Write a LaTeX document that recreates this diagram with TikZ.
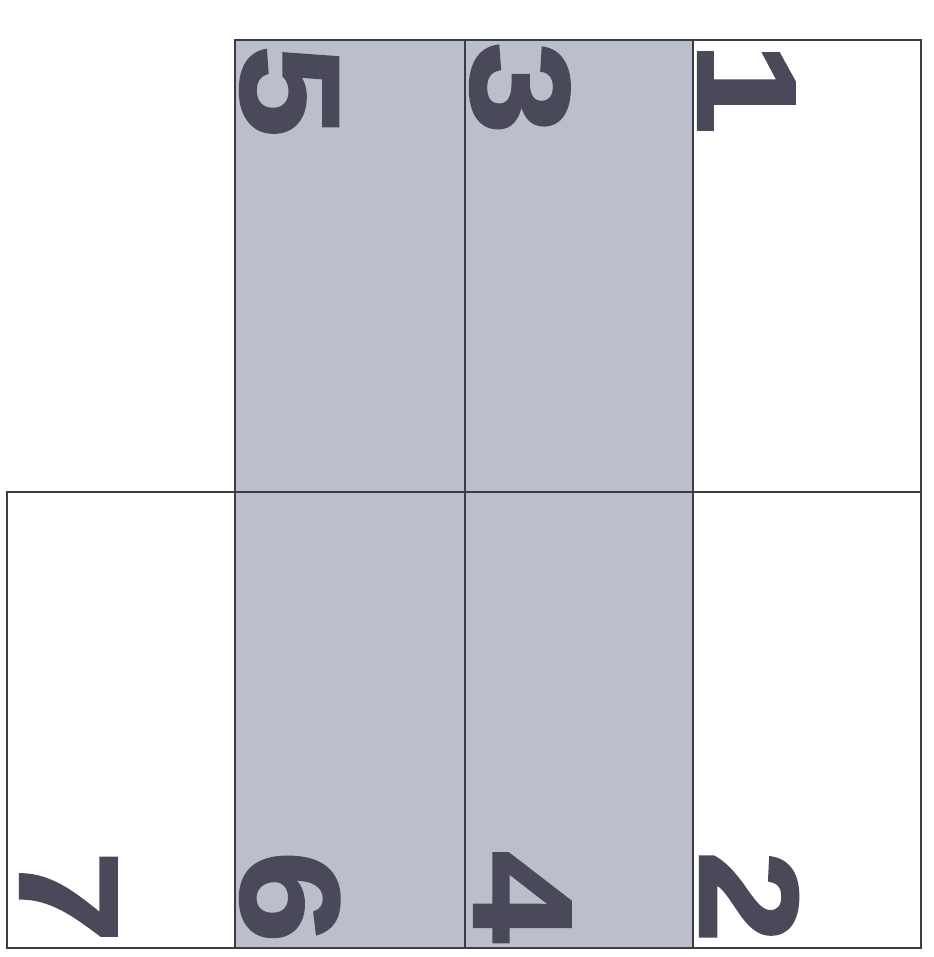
\documentclass[tikz,border=0pt]{standalone}
\usepackage{fontspec}
\setmainfont{Liberation Sans}
\newfontfamily\numfont{Liberation Sans Bold}[FakeStretch=1.18,FakeBold=2]
\usetikzlibrary{positioning}
\definecolor{paneshade}{HTML}{BBBFCC}
\definecolor{paneline}{HTML}{3C3C44}
\definecolor{panedigit}{HTML}{4A4959}
\tikzset{
  pane/.style={draw=paneline,line width=1.6pt},
  topnum/.style={rotate=-90,anchor=south west,inner sep=0pt,
    text=panedigit,font=\fontsize{140}{140}\numfont},
  botnum/.style={topnum,anchor=south east}
}
\begin{document}
\begin{tikzpicture}[x=1pt,y=-1pt]
  \useasboundingbox (0,0) rectangle (933,957);
  % shaded middle strip
  \fill[paneshade] (235,40) rectangle (693,948);
  % frame and grid
  \draw[pane] (235,40) rectangle (921,948);
  \draw[pane] (7,492) rectangle (235,948);
  \draw[pane] (7,492) -- (921,492);
  \foreach \x in {465,693}
    \draw[pane] (\x,40) -- (\x,948);
  % numbers, top row
  \node[topnum] (n5) at (240,45) {5};
  \node[topnum] (n3) at (470,42) {3};
  \node[topnum] (n1) at (698,42) {1};
  % numbers, bottom row
  \node[botnum] (n7) at (20,943) {7};
  \node[botnum] (n6) at (240,943) {6};
  \node[botnum] (n4) at (474,943) {4};
  \node[botnum] (n2) at (700,943) {2};
\end{tikzpicture}
\end{document}
